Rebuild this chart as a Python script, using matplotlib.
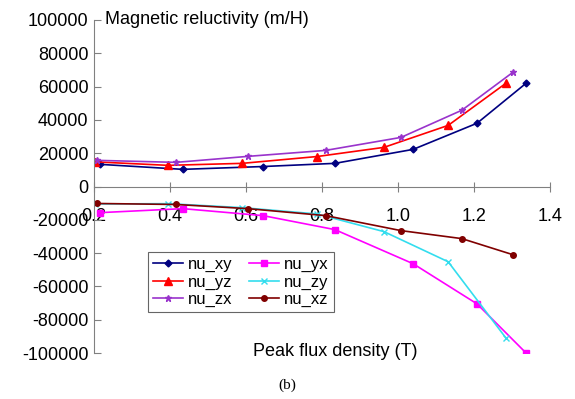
import matplotlib
matplotlib.use("Agg")
from matplotlib import pyplot as plt

plt.rcParams['font.family'] = ['Liberation Sans', 'DejaVu Sans']
plt.rcParams['axes.unicode_minus'] = False

# x positions (T) and reluctivity values (m/H)
x_a = [0.216, 0.434, 0.645, 0.834, 1.04, 1.208, 1.337]
x_b = [0.203, 0.395, 0.59, 0.787, 0.963, 1.132, 1.284]
x_c = [0.208, 0.416, 0.605, 0.81, 1.008, 1.168, 1.303]

nu_xy = [13300, 10300, 12000, 13900, 22300, 38000, 62000]
nu_yz = [14800, 12700, 13900, 18000, 23500, 36700, 62000]
nu_zx = [15700, 14500, 18100, 21700, 29500, 45800, 68700]
nu_yx = [-15700, -13300, -17500, -25900, -46400, -70500, -100000]
nu_zy = [-10500, -10300, -12700, -16500, -27100, -45200, -91000]
nu_xz = [-10200, -10800, -13300, -17500, -26500, -31300, -41000]

y_ticks = list(range(-100000, 100001, 20000))
x_ticks = [0.2, 0.4, 0.6, 0.8, 1.0, 1.2, 1.4]

fig = plt.figure(figsize=(5.75, 3.99), dpi=100)
ax = fig.add_axes([94 / 575, 1 - 353 / 399, (550 - 94) / 575, (353 - 20) / 399])

ax.plot(x_a, nu_xy, color='#000080', marker='D', ms=3.5, lw=1.2, label='nu_xy')
ax.plot(x_b, nu_yz, color='#ff0000', marker='^', ms=5.5, lw=1.2, label='nu_yz')
ax.plot(x_c, nu_zx, color='#9933cc', marker='*', ms=5, lw=1.2, label='nu_zx')
ax.plot(x_a, nu_yx, color='#ff00ff', marker='s', ms=4.5, lw=1.2, label='nu_yx')
ax.plot(x_b, nu_zy, color='#33ddee', marker='x', ms=4, lw=1.2, label='nu_zy')
ax.plot(x_c, nu_xz, color='#800000', marker='o', ms=4, lw=1.2, label='nu_xz')

ax.set_xlim(0.2, 1.4)
ax.set_ylim(-100000, 100000)
ax.set_xticks(x_ticks)
ax.set_xticklabels(['%.1f' % v for v in x_ticks])
ax.set_yticks(y_ticks)
ax.set_yticklabels([str(v) for v in y_ticks])

for s in ['top', 'right']:
    ax.spines[s].set_visible(False)
ax.spines['bottom'].set_position(('data', 0))
ax.spines['bottom'].set_color('#808080')
ax.spines['left'].set_color('#808080')
ax.tick_params(axis='both', colors='#808080', labelcolor='black', labelsize=13)
ax.tick_params(axis='x', direction='inout', length=7, pad=12)
ax.tick_params(axis='y', direction='in', length=5, pad=4)

ax.text(0.025, 1.0, 'Magnetic reluctivity (m/H)', transform=ax.transAxes,
        fontsize=13, va='center', ha='left')
fig.text(335 / 575, 1 - 351 / 399, 'Peak flux density (T)', fontsize=13,
         va='center', ha='center')
fig.text(287 / 575, 1 - 385 / 399, '(b)', fontsize=11, va='center', ha='center',
         family=['Liberation Serif', 'DejaVu Serif'])

leg = ax.legend(ncol=2, loc='upper left', bbox_to_anchor=((148 - 94) / 456, 1 - (252 - 20) / 333),
                fontsize=12, frameon=True, fancybox=False, edgecolor='#404040',
                handlelength=1.8, handletextpad=0.3, columnspacing=1.0,
                labelspacing=0.15, borderpad=0.3, borderaxespad=0)
leg.get_frame().set_linewidth(0.8)

fig.savefig('out.png', dpi=100)
